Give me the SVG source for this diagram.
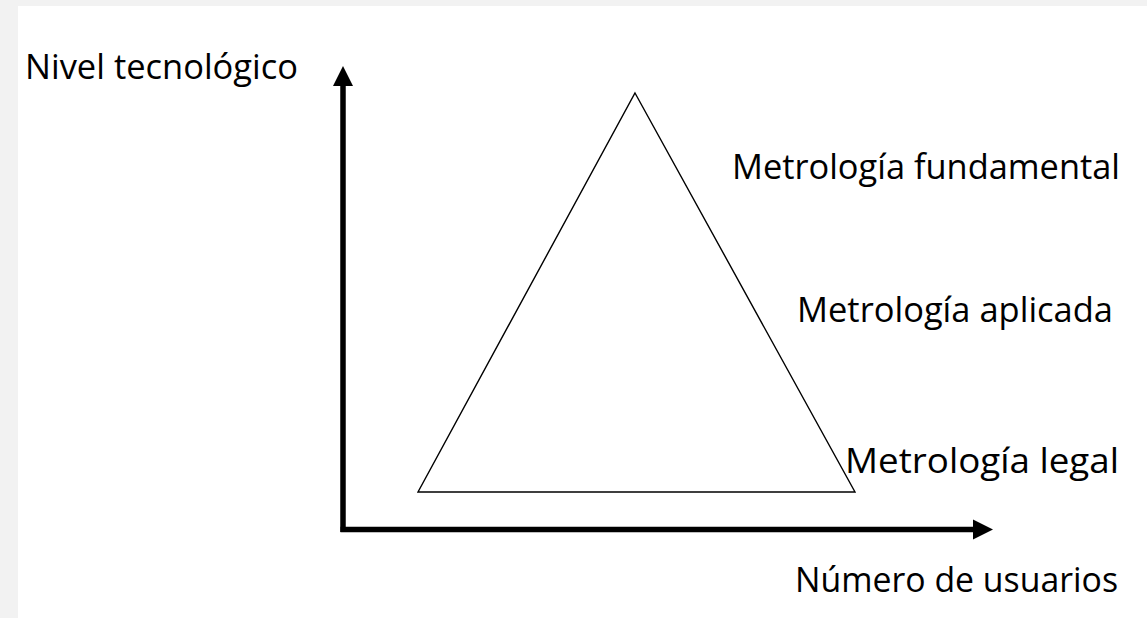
<svg xmlns="http://www.w3.org/2000/svg" width="1147" height="618" viewBox="0 0 1147 618">
<style>
.lbl{font-family:"Open Sans","Noto Sans","Liberation Sans",sans-serif;font-size:35px;fill:#000}
.axis{stroke:#000;stroke-width:5.5;fill:none}
</style>
<defs>
<marker id="ah" markerUnits="userSpaceOnUse" markerWidth="22" markerHeight="22" refX="0" refY="10" orient="auto" viewBox="0 0 22 20">
<path d="M0,0 L20,10 L0,20 Z" fill="#000"/>
</marker>
</defs>
<rect x="0" y="0" width="1147" height="618" fill="#f2f2f2"/>
<rect x="18" y="6" width="1129" height="612" fill="#fff"/>
<g id="connectors">
<path class="axis" d="M343,532 L343,86" marker-end="url(#ah)"/>
<path class="axis" d="M340.5,529.5 L973,529.5" marker-end="url(#ah)"/>
</g>
<g id="triangle">
<polygon points="635,93 855,492 418,492" fill="none" stroke="#000" stroke-width="1.4"/>
</g>
<g id="y-label"><text class="lbl" x="25" y="79" textLength="273" lengthAdjust="spacingAndGlyphs">Nivel tecnológico</text></g>
<g id="x-label"><text class="lbl" x="795" y="592" textLength="323" lengthAdjust="spacingAndGlyphs">Número de usuarios</text></g>
<g id="fundamental"><text class="lbl" x="732" y="179" textLength="388" lengthAdjust="spacingAndGlyphs">Metrología fundamental</text></g>
<g id="aplicada"><text class="lbl" x="797" y="322" textLength="316" lengthAdjust="spacingAndGlyphs">Metrología aplicada</text></g>
<g id="legal"><text class="lbl" x="845" y="473" textLength="274" lengthAdjust="spacingAndGlyphs">Metrología legal</text></g>
</svg>
